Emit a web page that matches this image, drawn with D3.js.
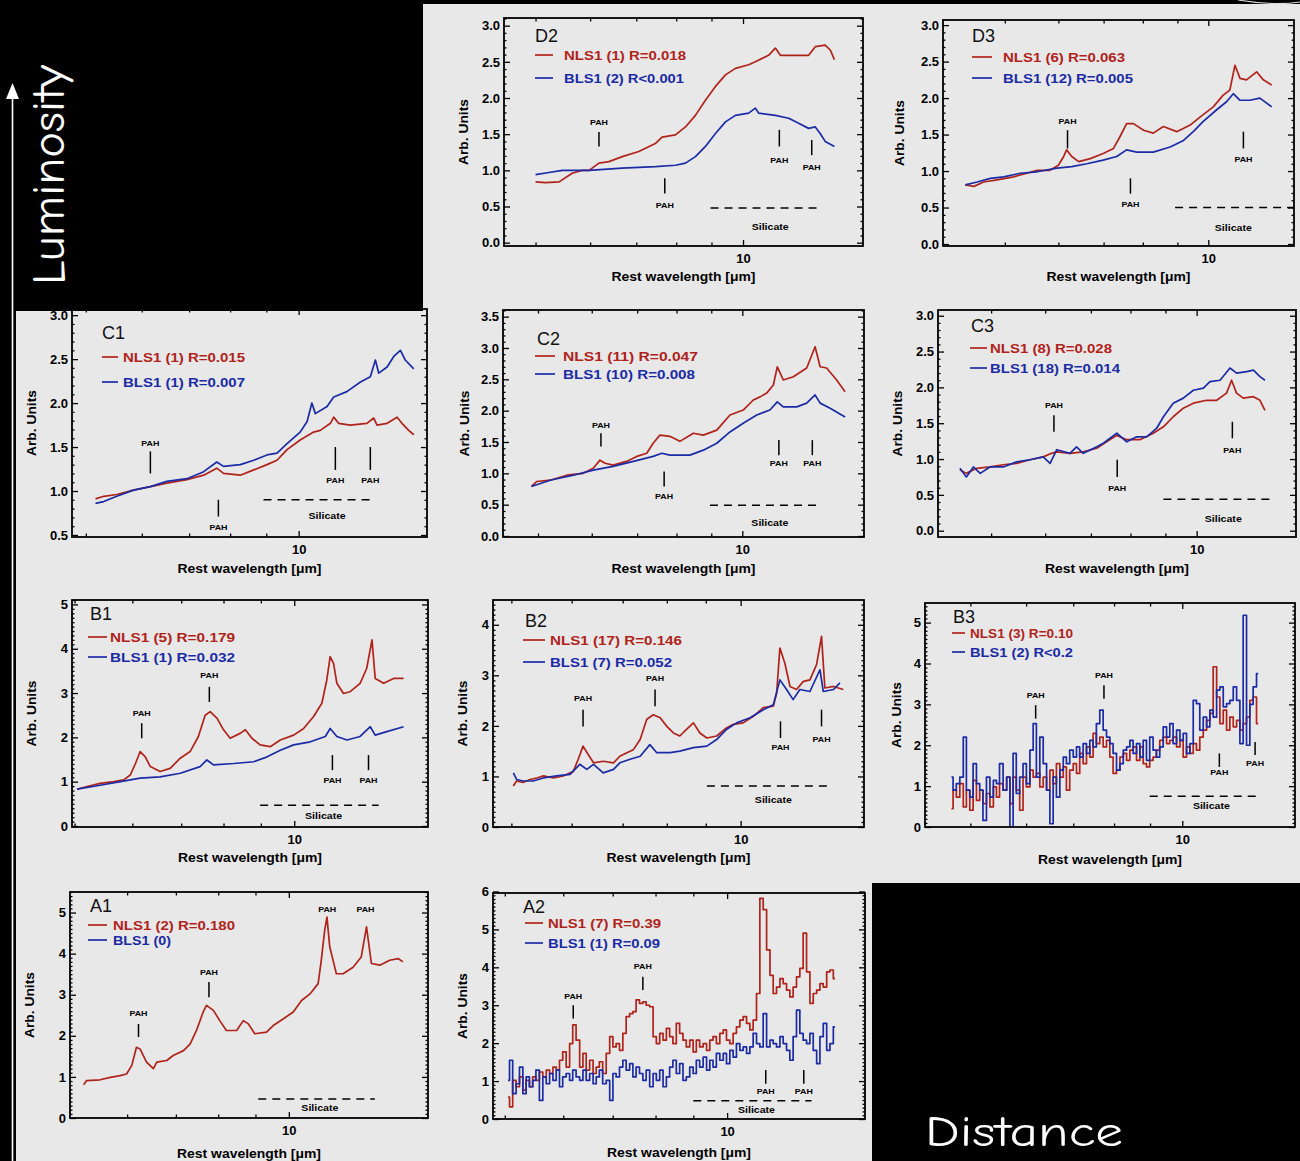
<!DOCTYPE html>
<html>
<head>
<meta charset="utf-8">
<script src="https://cdn.jsdelivr.net/npm/d3@7"></script>
<style>
  html, body { margin: 0; padding: 0; background: #000; }
  svg { display: block; }
</style>
</head>
<body>
<svg id="chart" width="1300" height="1161"></svg>
<script>
// ---------------------------------------------------------------------------
// Mean mid-IR spectra (rest wavelength in micron, flux in arbitrary units)
// for NLS1 and BLS1 sub-samples, binned by luminosity (A..D) and distance (1..3).
// ---------------------------------------------------------------------------

// D2
const D2_NLS1 = [[5.00,0.84],[5.17,0.83],[5.41,0.84],[5.65,0.96],[5.84,1.00],[5.98,1.00],[6.18,1.10],[6.39,1.12],[6.68,1.19],[7.06,1.26],[7.46,1.37],[7.63,1.46],[7.98,1.49],[8.25,1.60],[8.53,1.76],[8.82,1.97],[9.12,2.16],[9.43,2.32],[9.75,2.41],[10.19,2.46],[10.42,2.50],[10.89,2.59],[11.14,2.69],[11.33,2.59],[11.65,2.59],[12.45,2.59],[12.73,2.71],[13.16,2.73],[13.39,2.66],[13.57,2.53]];
const D2_BLS1 = [[5.00,0.94],[5.23,0.97],[5.47,1.00],[5.98,1.00],[6.68,1.03],[7.46,1.05],[7.98,1.07],[8.25,1.10],[8.53,1.19],[8.82,1.33],[9.12,1.51],[9.43,1.67],[9.75,1.76],[10.19,1.79],[10.42,1.86],[10.54,1.79],[11.14,1.76],[11.65,1.72],[12.04,1.65],[12.45,1.58],[12.73,1.60],[12.94,1.51],[13.16,1.40],[13.57,1.33]];
// D3
const D3_NLS1 = [[4.37,0.81],[4.50,0.79],[4.65,0.85],[4.87,0.88],[5.15,0.92],[5.39,0.97],[5.58,1.01],[5.83,1.01],[6.00,1.08],[6.11,1.20],[6.17,1.29],[6.28,1.20],[6.43,1.13],[6.69,1.17],[6.99,1.24],[7.24,1.31],[7.40,1.47],[7.57,1.65],[7.75,1.65],[8.02,1.56],[8.29,1.52],[8.58,1.61],[8.98,1.54],[9.40,1.63],[9.72,1.74],[10.17,1.88],[10.52,2.04],[10.76,2.11],[10.95,2.45],[11.14,2.27],[11.39,2.25],[11.79,2.36],[12.06,2.25],[12.41,2.18]];
const D3_BLS1 = [[4.37,0.81],[4.55,0.85],[4.76,0.90],[4.98,0.92],[5.27,0.97],[5.58,0.99],[5.97,1.04],[6.28,1.06],[6.61,1.10],[6.99,1.15],[7.32,1.20],[7.57,1.29],[7.84,1.26],[8.29,1.26],[8.78,1.33],[9.19,1.42],[9.50,1.54],[9.83,1.68],[10.29,1.84],[10.64,1.95],[10.89,2.06],[11.14,1.97],[11.52,1.97],[11.92,2.00],[12.41,1.88]];
// C1
const C1_NLS1 = [[5.16,0.91],[5.30,0.94],[5.53,0.96],[5.84,1.01],[6.17,1.05],[6.51,1.09],[6.95,1.13],[7.34,1.18],[7.66,1.26],[7.83,1.20],[8.27,1.18],[8.64,1.24],[9.02,1.30],[9.32,1.35],[9.63,1.47],[10.05,1.58],[10.50,1.67],[10.73,1.69],[11.09,1.77],[11.21,1.84],[11.39,1.77],[11.83,1.75],[12.49,1.77],[12.77,1.83],[12.91,1.75],[13.34,1.77],[13.78,1.84],[14.00,1.77],[14.31,1.69],[14.55,1.64]];
const C1_BLS1 = [[5.16,0.86],[5.30,0.88],[5.53,0.94],[5.84,1.01],[6.17,1.05],[6.51,1.11],[6.95,1.14],[7.34,1.22],[7.66,1.33],[7.83,1.28],[8.27,1.30],[8.64,1.35],[9.02,1.41],[9.32,1.43],[9.63,1.54],[10.05,1.67],[10.28,1.79],[10.44,2.00],[10.56,1.88],[10.97,1.96],[11.21,2.07],[11.70,2.13],[12.23,2.24],[12.63,2.30],[12.84,2.49],[12.98,2.34],[13.34,2.41],[13.63,2.53],[13.93,2.60],[14.15,2.49],[14.55,2.39]];
// C2
const C2_NLS1 = [[4.89,0.79],[4.98,0.87],[5.21,0.89],[5.51,0.97],[5.83,1.00],[6.03,1.08],[6.17,1.21],[6.28,1.16],[6.45,1.13],[6.75,1.19],[6.99,1.27],[7.23,1.32],[7.39,1.48],[7.56,1.61],[7.82,1.59],[8.09,1.51],[8.47,1.64],[8.76,1.61],[9.17,1.69],[9.59,1.93],[10.03,2.01],[10.38,2.17],[10.62,2.22],[10.86,2.28],[11.11,2.41],[11.26,2.70],[11.49,2.49],[11.89,2.54],[12.44,2.68],[12.80,3.02],[13.02,2.70],[13.31,2.68],[13.77,2.49],[14.17,2.30]];
const C2_BLS1 = [[4.89,0.79],[5.21,0.89],[5.64,0.97],[6.03,1.05],[6.45,1.11],[6.91,1.19],[7.39,1.27],[7.61,1.32],[7.82,1.29],[8.37,1.29],[8.76,1.37],[9.17,1.48],[9.59,1.66],[10.03,1.80],[10.50,1.93],[10.98,2.01],[11.26,2.14],[11.49,2.06],[12.03,2.06],[12.44,2.12],[12.80,2.25],[13.02,2.12],[13.47,2.04],[14.17,1.90]];
// C3
const C3_NLS1 = [[4.50,0.85],[4.60,0.80],[4.76,0.87],[4.98,0.89],[5.21,0.92],[5.45,0.94],[5.70,0.99],[5.96,1.03],[6.13,1.08],[6.24,1.10],[6.52,1.08],[6.82,1.10],[7.14,1.15],[7.38,1.24],[7.64,1.33],[7.90,1.27],[8.26,1.27],[8.64,1.36],[8.94,1.45],[9.24,1.59],[9.56,1.71],[9.89,1.78],[10.34,1.82],[10.70,1.82],[11.06,1.92],[11.25,2.10],[11.44,1.92],[11.70,1.85],[12.11,1.87],[12.38,1.82],[12.59,1.68]];
const C3_BLS1 = [[4.50,0.87],[4.60,0.75],[4.71,0.89],[4.82,0.80],[4.98,0.89],[5.21,0.89],[5.45,0.96],[5.70,0.99],[5.96,1.03],[6.10,0.94],[6.24,1.13],[6.52,1.08],[6.67,1.17],[6.82,1.08],[7.14,1.17],[7.30,1.22],[7.64,1.36],[7.90,1.24],[8.17,1.31],[8.45,1.31],[8.74,1.43],[8.94,1.59],[9.24,1.78],[9.56,1.85],[9.89,1.96],[10.23,1.99],[10.46,2.08],[10.82,2.10],[11.19,2.27],[11.44,2.20],[11.84,2.22],[12.11,2.24],[12.38,2.15],[12.59,2.10]];
// B1
const B1_NLS1 = [[5.04,0.83],[5.20,0.89],[5.42,0.96],[5.66,1.00],[5.84,1.04],[5.96,1.15],[6.06,1.41],[6.15,1.68],[6.25,1.56],[6.35,1.34],[6.55,1.23],[6.76,1.30],[6.98,1.53],[7.20,1.68],[7.39,2.02],[7.55,2.50],[7.67,2.58],[7.84,2.43],[8.00,2.17],[8.17,1.98],[8.43,2.09],[8.57,2.17],[8.75,1.98],[8.98,1.83],[9.27,1.79],[9.57,1.94],[9.98,2.05],[10.30,2.20],[10.63,2.47],[10.91,2.77],[11.08,3.29],[11.20,3.82],[11.32,3.67],[11.44,3.22],[11.68,2.99],[11.93,3.03],[12.31,3.22],[12.57,3.56],[12.78,4.20],[12.91,3.33],[13.26,3.22],[13.68,3.33],[14.12,3.33]];
const B1_BLS1 = [[5.04,0.83],[5.42,0.92],[5.78,1.00],[6.15,1.08],[6.55,1.11],[6.98,1.19],[7.43,1.34],[7.59,1.49],[7.75,1.38],[8.26,1.41],[8.80,1.45],[9.18,1.56],[9.57,1.71],[9.98,1.83],[10.52,1.90],[11.03,2.02],[11.20,2.20],[11.44,2.02],[11.81,1.94],[12.31,2.02],[12.71,2.24],[12.91,2.05],[13.39,2.13],[14.12,2.24]];
// B2
const B2_NLS1 = [[5.03,0.81],[5.08,0.91],[5.18,0.88],[5.29,0.94],[5.40,0.97],[5.51,1.01],[5.68,0.97],[5.85,1.01],[6.03,1.10],[6.12,1.34],[6.21,1.60],[6.31,1.43],[6.41,1.27],[6.60,1.30],[6.81,1.27],[6.94,1.40],[7.09,1.47],[7.23,1.53],[7.38,1.73],[7.53,2.13],[7.68,2.22],[7.84,2.16],[8.00,1.99],[8.16,1.86],[8.32,1.80],[8.49,1.93],[8.67,2.06],[8.84,1.86],[9.03,1.76],[9.30,1.80],[9.58,1.96],[9.78,2.03],[10.08,2.06],[10.39,2.19],[10.71,2.36],[11.04,2.39],[11.15,2.65],[11.26,3.54],[11.43,3.24],[11.61,2.78],[11.84,2.72],[12.09,2.88],[12.33,2.91],[12.58,3.21],[12.77,3.77],[12.90,2.75],[13.24,2.78],[13.64,2.72]];
const B2_BLS1 = [[5.03,1.07],[5.08,0.94],[5.18,0.91],[5.34,0.91],[5.51,0.97],[5.73,1.01],[5.97,1.04],[6.15,1.24],[6.28,1.14],[6.41,1.24],[6.60,1.07],[6.81,1.14],[6.94,1.27],[7.16,1.34],[7.38,1.40],[7.60,1.63],[7.76,1.47],[8.08,1.47],[8.32,1.50],[8.67,1.57],[9.03,1.60],[9.30,1.73],[9.58,1.93],[9.88,2.06],[10.29,2.16],[10.71,2.32],[11.04,2.42],[11.26,2.91],[11.49,2.72],[11.72,2.52],[11.96,2.72],[12.33,2.68],[12.71,3.11],[12.84,2.68],[13.24,2.72],[13.50,2.85]];
// B3 (binned spectra on a common wavelength grid)
const B3_WAVE = [4.70,4.75,4.80,4.86,4.91,4.96,5.02,5.07,5.13,5.18,5.24,5.30,5.36,5.42,5.47,5.53,5.60,5.66,5.72,5.78,5.84,5.91,5.97,6.04,6.11,6.17,6.24,6.31,6.38,6.45,6.52,6.59,6.66,6.74,6.81,6.88,6.96,7.04,7.11,7.19,7.27,7.35,7.43,7.51,7.59,7.68,7.76,7.85,7.93,8.02,8.11,8.20,8.29,8.38,8.47,8.56,8.66,8.75,8.85,8.94,9.04,9.14,9.24,9.34,9.45,9.55,9.65,9.76,9.87,9.98,10.08,10.20,10.31,10.42,10.53,10.65,10.77,10.89,11.00,11.13,11.25,11.37,11.50,11.62,11.75,11.88,12.01,12.14,12.27,12.41,12.54,12.68,12.82];
const B3_NLS1 = [0.45,0.9,0.73,1.06,0.49,0.9,0.41,1.14,0.65,0.9,0.57,0.82,0.49,0.98,0.73,1.06,0.9,1.22,0.57,1.22,0.9,0.41,1.22,0.98,1.39,1.22,1.31,0.98,1.22,0.9,1.39,1.06,1.55,1.22,1.47,0.9,1.39,1.55,1.31,1.8,1.55,1.96,1.71,2.29,2.04,2.2,1.96,2.12,1.71,1.31,1.39,1.71,1.8,1.63,1.88,1.96,1.63,1.96,1.55,1.47,1.63,1.71,1.88,2.12,2.2,2.04,2.12,2.2,1.96,2.12,1.71,1.96,1.8,2.04,1.88,2.2,2.37,2.61,2.78,3.92,3.18,2.53,2.86,2.37,2.69,2.45,2.61,2.37,2.53,2.69,3.1,3.18,2.53];
const B3_BLS1 = [1.22,0.9,1.06,1.22,2.2,0.9,0.73,1.55,1.06,0.9,0.16,1.22,0.73,1.14,1.06,1.55,0.9,1.22,0.0,1.8,0.82,1.22,1.55,1.06,1.88,2.53,1.22,2.2,1.55,0.9,0.08,1.22,0.73,1.39,1.71,1.55,1.88,1.71,1.96,1.71,2.04,1.8,2.12,1.96,2.53,2.86,2.37,2.2,2.04,1.8,1.39,1.55,1.88,1.96,2.12,1.8,2.04,1.71,2.12,1.63,2.2,1.88,1.71,1.96,2.45,2.2,2.53,2.04,2.37,2.12,2.29,1.8,2.04,3.1,3.02,2.37,2.69,2.45,2.86,2.69,3.35,3.43,2.94,3.02,3.1,3.43,3.1,2.04,5.18,2.0,3.0,3.43,3.75];
// A1
const A1_NLS1 = [[5.23,0.81],[5.28,0.91],[5.51,0.93],[5.69,0.99],[5.87,1.03],[5.99,1.07],[6.09,1.28],[6.18,1.72],[6.25,1.68],[6.38,1.36],[6.52,1.20],[6.59,1.36],[6.80,1.40],[6.94,1.52],[7.17,1.64],[7.32,1.80],[7.47,2.13],[7.63,2.58],[7.71,2.74],[7.88,2.62],[8.04,2.37],[8.21,2.13],[8.48,2.13],[8.66,2.37],[8.80,2.29],[8.98,2.05],[9.32,2.09],[9.52,2.25],[9.82,2.41],[10.14,2.58],[10.41,2.86],[10.69,3.02],[10.97,3.27],[11.08,3.84],[11.20,4.57],[11.28,4.89],[11.38,4.16],[11.62,3.51],[11.87,3.51],[12.25,3.67],[12.57,3.92],[12.78,4.65],[12.98,3.76],[13.33,3.72],[13.75,3.84],[14.12,3.88],[14.34,3.80]];
const A1_BLS1 = [];
// A2 (binned spectra on a common wavelength grid)
const A2_WAVE = [5.05,5.10,5.15,5.21,5.26,5.32,5.37,5.43,5.48,5.54,5.60,5.66,5.72,5.78,5.84,5.90,5.96,6.02,6.09,6.15,6.21,6.28,6.35,6.41,6.48,6.55,6.62,6.68,6.75,6.82,6.90,6.97,7.04,7.11,7.19,7.26,7.34,7.42,7.49,7.57,7.65,7.73,7.81,7.90,7.98,8.06,8.15,8.23,8.32,8.40,8.49,8.58,8.67,8.76,8.85,8.95,9.04,9.13,9.23,9.33,9.43,9.52,9.62,9.72,9.83,9.93,10.03,10.14,10.24,10.35,10.46,10.57,10.68,10.79,10.90,11.02,11.13,11.25,11.37,11.49,11.60,11.73,11.85,11.97,12.10,12.22,12.35,12.48,12.61,12.74,12.88,13.01,13.15,13.29,13.42,13.57,13.71,13.85,14.00];
const A2_NLS1 = [0.58,0.32,1.02,0.85,1.11,0.76,1.02,0.85,1.11,1.02,1.24,1.11,1.29,1.2,1.37,1.29,1.55,1.77,1.37,1.99,2.48,2.08,1.37,1.73,1.29,1.55,1.2,1.37,1.51,1.2,1.73,2.17,1.9,1.99,1.81,2.26,2.7,2.78,2.83,3.14,3.05,3.09,3.0,2.96,2.17,1.99,2.26,2.08,2.39,2.17,1.99,2.52,2.26,2.08,1.9,2.08,1.77,2.08,1.9,1.99,1.81,2.08,2.17,1.99,2.26,2.35,2.08,1.99,2.26,2.43,2.61,2.7,2.52,2.35,2.61,3.31,5.82,5.52,4.46,3.79,3.31,3.48,3.7,3.57,3.4,3.22,3.48,3.75,3.97,4.9,3.88,3.05,3.31,3.4,3.57,3.48,3.88,3.93,3.7];
const A2_BLS1 = [1.02,1.55,0.67,0.93,1.37,0.67,1.11,0.85,1.02,1.29,0.49,1.11,0.93,1.2,1.02,1.29,0.85,1.11,1.2,1.02,1.29,1.11,1.02,1.29,1.02,1.2,0.93,1.11,1.29,0.93,1.02,0.49,1.2,1.11,1.37,1.55,1.29,1.46,1.11,1.37,1.2,1.02,1.29,0.85,1.2,1.02,1.29,0.85,1.11,1.37,1.55,1.2,1.46,1.02,1.11,1.37,1.2,1.55,1.37,1.63,1.29,1.55,1.37,1.73,1.55,1.73,1.46,1.81,1.63,1.99,1.81,1.9,1.73,1.9,2.26,1.99,1.9,2.78,1.9,2.08,1.99,1.9,2.17,1.99,1.81,1.55,2.17,2.87,2.26,2.08,1.99,2.26,1.81,1.46,2.17,2.52,1.81,1.99,2.43];

// Legend entries (NLS1 first, BLS1 second)
const LEGEND_D2 = ["NLS1 (1) R=0.018", "BLS1 (2) R<0.001"];
const LEGEND_D3 = ["NLS1 (6) R=0.063", "BLS1 (12) R=0.005"];
const LEGEND_C1 = ["NLS1 (1) R=0.015", "BLS1 (1) R=0.007"];
const LEGEND_C2 = ["NLS1 (11) R=0.047", "BLS1 (10) R=0.008"];
const LEGEND_C3 = ["NLS1 (8) R=0.028", "BLS1 (18) R=0.014"];
const LEGEND_B1 = ["NLS1 (5) R=0.179", "BLS1 (1) R=0.032"];
const LEGEND_B2 = ["NLS1 (17) R=0.146", "BLS1 (7) R=0.052"];
const LEGEND_B3 = ["NLS1 (3) R=0.10", "BLS1 (2) R<0.2"];
const LEGEND_A1 = ["NLS1 (2) R=0.180", "BLS1 (0)"];
const LEGEND_A2 = ["NLS1 (7) R=0.39", "BLS1 (1) R=0.09"];

// PAH feature markers: [wavelength, tick top, tick bottom, label level] (flux units)
const PAH_D2 = [[6.18,1.53,1.33,1.67],[7.70,0.89,0.68,0.52],[11.29,1.56,1.33,1.14],[12.58,1.42,1.21,1.05]];
const PAH_D3 = [[6.19,1.56,1.31,1.68],[7.67,0.90,0.69,0.55],[11.27,1.54,1.31,1.16]];
const PAH_C1 = [[6.17,1.45,1.20,1.54],[7.70,0.90,0.71,0.59],[11.27,1.50,1.24,1.125],[12.63,1.50,1.24,1.125]];
const PAH_C2 = [[6.19,1.64,1.43,1.77],[7.67,1.03,0.79,0.63],[11.32,1.53,1.29,1.16],[12.68,1.53,1.29,1.16]];
const PAH_C3 = [[6.18,1.61,1.38,1.75],[7.65,0.99,0.75,0.59],[11.28,1.52,1.29,1.13]];
const PAH_B1 = [[6.18,2.32,1.98,2.54],[7.65,3.14,2.80,3.41],[11.28,1.60,1.26,1.04],[12.64,1.60,1.26,1.04]];
const PAH_B2 = [[6.21,2.32,1.99,2.55],[7.72,2.72,2.39,2.95],[11.28,2.09,1.76,1.57],[12.77,2.32,1.99,1.73]];
const PAH_B3 = [[6.19,2.98,2.65,3.22],[7.74,3.47,3.14,3.71],[11.29,1.80,1.47,1.35],[12.69,2.08,1.76,1.55]];
const PAH_A1 = [[6.22,2.29,1.97,2.54],[7.77,3.31,2.94,3.55],[11.29,null,null,5.07],[12.74,null,null,5.07]];
const PAH_A2 = [[6.19,3.00,2.65,3.24],[7.69,3.75,3.40,4.04],[11.28,1.29,0.93,0.74],[12.70,1.29,0.93,0.74]];

// Silicate band: [from, to, level, label wavelength, label level]
const SIL_D2 = [8.97,12.85,0.48,10.95,0.21];
const SIL_D3 = [8.93,13.39,0.50,10.89,0.22];
const SIL_C1 = [8.92,12.77,0.90,10.97,0.71];
const SIL_C2 = [8.96,12.94,0.49,10.98,0.21];
const SIL_C3 = [8.94,12.88,0.44,10.94,0.16];
const SIL_B1 = [8.98,13.05,0.47,10.97,0.23];
const SIL_B2 = [9.03,13.10,0.81,11.04,0.53];
const SIL_B3 = [8.99,12.83,0.75,11.00,0.51];
const SIL_A1 = [9.08,13.12,0.46,11.03,0.24];
const SIL_A2 = [9.00,13.01,0.48,10.96,0.23];

// Axis ranges and tick values
const Y_TICKS_HALF = [0, 0.5, 1, 1.5, 2, 2.5, 3];
const Y_TICKS_C1 = [0.5, 1, 1.5, 2, 2.5, 3];
const Y_TICKS_C2 = [0, 0.5, 1, 1.5, 2, 2.5, 3, 3.5];
const Y_TICKS_B2 = [0, 1, 2, 3, 4];
const Y_TICKS_FIVE = [0, 1, 2, 3, 4, 5];
const Y_TICKS_A2 = [0, 1, 2, 3, 4, 5, 6];
const X_MINOR = [4, 5, 6, 7, 8, 9];
const X_MAJOR = [10];

// ---------------------------------------------------------------------------
const RED = "#b0231b", BLUE = "#1b2ba6", GREY = "#e8e8e8";
const FONT = "'Liberation Sans', Arial, sans-serif";
const zip = (w, f) => w.map((v, i) => [v, f[i]]);

const panels = [
  { id: "D2", frame: [504, 18, 863, 246], xd: [4.50, 14.93], yd: [-0.046, 3.106], yt: Y_TICKS_HALF, fmt: ".1f",
    nls: D2_NLS1, bls: D2_BLS1, leg: LEGEND_D2, pah: PAH_D2, sil: SIL_D2,
    lay: { lab: [535, 42], lx: [535, 553], tx: 564, ly: [55, 78], tw: [122, 120], ytx: 40, xty: 35 } },
  { id: "D3", frame: [943, 20, 1294, 246], xd: [4.05, 13.39], yd: [-0.027, 3.07], yt: Y_TICKS_HALF, fmt: ".1f",
    nls: D3_NLS1, bls: D3_BLS1, leg: LEGEND_D3, pah: PAH_D3, sil: SIL_D3,
    lay: { lab: [972, 42], lx: [972, 992], tx: 1003, ly: [57, 78], tw: [122, 130], ytx: 43, xty: 35 } },
  { id: "C1", frame: [72, 309, 427, 537], xd: [4.78, 15.19], yd: [0.477, 3.07], yt: Y_TICKS_C1, fmt: ".1f",
    nls: C1_NLS1, bls: C1_BLS1, leg: LEGEND_C1, pah: PAH_C1, sil: SIL_C1,
    lay: { lab: [102, 339], lx: [102, 118], tx: 123, ly: [357, 382], tw: [122, 122], ytx: 40, xty: 36 } },
  { id: "C2", frame: [503, 310, 864, 537], xd: [4.44, 15.11], yd: [-0.016, 3.606], yt: Y_TICKS_C2, fmt: ".1f",
    nls: C2_NLS1, bls: C2_BLS1, leg: LEGEND_C2, pah: PAH_C2, sil: SIL_C2,
    lay: { lab: [537, 345], lx: [535, 555], tx: 563, ly: [356, 374], tw: [135, 132], ytx: 38, xty: 36 } },
  { id: "C3", frame: [938, 310, 1296, 537], xd: [4.18, 13.98], yd: [-0.088, 3.08], yt: Y_TICKS_HALF, fmt: ".1f",
    nls: C3_NLS1, bls: C3_BLS1, leg: LEGEND_C3, pah: PAH_C3, sil: SIL_C3,
    lay: { lab: [971, 332], lx: [970, 987], tx: 990, ly: [348, 368], tw: [122, 130], ytx: 40, xty: 36 } },
  { id: "B1", frame: [72, 600, 428, 827], xd: [4.96, 15.25], yd: [-0.023, 5.10], yt: Y_TICKS_FIVE, fmt: "d",
    nls: B1_NLS1, bls: B1_BLS1, leg: LEGEND_B1, pah: PAH_B1, sil: SIL_B1,
    lay: { lab: [90, 620], lx: [88, 107], tx: 110, ly: [637, 657], tw: [125, 125], ytx: 40, xty: 35 } },
  { id: "B2", frame: [493, 600, 864, 827], xd: [4.73, 14.52], yd: [0, 4.49], yt: Y_TICKS_B2, fmt: "d",
    nls: B2_NLS1, bls: B2_BLS1, leg: LEGEND_B2, pah: PAH_B2, sil: SIL_B2,
    lay: { lab: [525, 627], lx: [523, 545], tx: 550, ly: [640, 662], tw: [132, 122], ytx: 30, xty: 35 } },
  { id: "B3", frame: [925, 603, 1295, 827], xd: [4.31, 14.46], yd: [0, 5.48], yt: Y_TICKS_FIVE, fmt: "d", step: true,
    nls: zip(B3_WAVE, B3_NLS1), bls: zip(B3_WAVE, B3_BLS1), leg: LEGEND_B3, pah: PAH_B3, sil: SIL_B3,
    lay: { lab: [953, 623], lx: [952, 965], tx: 970, ly: [633, 652], tw: [103, 103], ytx: 28, xty: 37 } },
  { id: "A1", frame: [70, 892, 428, 1118], xd: [5.01, 15.52], yd: [0, 5.50], yt: Y_TICKS_FIVE, fmt: "d",
    nls: A1_NLS1, bls: A1_BLS1, leg: LEGEND_A1, pah: PAH_A1, sil: SIL_A1,
    lay: { lab: [90, 912], lx: [88, 107], tx: 113, ly: [925, 940], tw: [122, 58], ytx: 40, xty: 40 } },
  { id: "A2", frame: [493, 893, 865, 1119], xd: [4.82, 15.37], yd: [0, 5.96], yt: Y_TICKS_A2, fmt: "d", step: true,
    nls: zip(A2_WAVE, A2_NLS1), bls: zip(A2_WAVE, A2_BLS1), leg: LEGEND_A2, pah: PAH_A2, sil: SIL_A2,
    lay: { lab: [523, 913], lx: [525, 543], tx: 548, ly: [923, 943], tw: [113, 112], ytx: 30, xty: 38 } }
];

const svg = d3.select("#chart");
const defs = svg.append("defs");

// Page background: black slide with light-grey plot sheets
svg.append("rect").attr("width", 1300).attr("height", 1161).attr("fill", "#000");
svg.append("rect").attr("x", 423).attr("y", 4).attr("width", 877).attr("height", 310).attr("fill", GREY);
svg.append("rect").attr("x", 16).attr("y", 310).attr("width", 1284).attr("height", 851).attr("fill", GREY);

function styleAxis(g, size) {
  g.select(".domain").remove();
  g.selectAll("line").attr("stroke", "#000").attr("stroke-width", 1.3);
  g.selectAll("text").attr("fill", "#000").attr("font-family", FONT)
    .attr("font-weight", "bold").attr("font-size", size || 13);
}

function drawPanel(p) {
  const [x0, y0, x1, y1] = p.frame;
  const x = d3.scaleLog().domain(p.xd).range([x0, x1]);
  const y = d3.scaleLinear().domain(p.yd).range([y1, y0]);
  const g = svg.append("g").attr("class", "panel panel-" + p.id);

  const clipId = "clip-" + p.id;
  defs.append("clipPath").attr("id", clipId).append("rect")
    .attr("x", x0).attr("y", y0).attr("width", x1 - x0).attr("height", y1 - y0);

  // Spectra
  const line = d3.line().x(d => x(d[0])).y(d => y(d[1]))
    .curve(p.step ? d3.curveStep : d3.curveLinear);
  [[p.nls, RED], [p.bls, BLUE]].forEach(([data, col]) => {
    if (!data.length) return;
    g.append("path").datum(data)
      .attr("clip-path", `url(#${clipId})`)
      .attr("d", line).attr("fill", "none")
      .attr("stroke", col).attr("stroke-width", 1.7)
      .attr("stroke-linejoin", "round");
  });

  // Silicate band marker
  const [sA, sB, sLev, sLx, sLy] = p.sil;
  g.append("line").attr("x1", x(sA)).attr("x2", x(sB)).attr("y1", y(sLev)).attr("y2", y(sLev))
    .attr("stroke", "#000").attr("stroke-width", 1.5).attr("stroke-dasharray", "8,6");
  g.append("text").attr("x", x(sLx)).attr("y", y(sLy)).attr("dy", "0.35em")
    .attr("text-anchor", "middle").attr("font-family", FONT).attr("font-weight", "bold")
    .attr("font-size", 8.5).attr("textLength", 37).attr("lengthAdjust", "spacingAndGlyphs")
    .text("Silicate");

  // PAH markers
  p.pah.forEach(([w, t0, t1, lv]) => {
    if (t0 !== null) {
      g.append("line").attr("x1", x(w)).attr("x2", x(w)).attr("y1", y(t0)).attr("y2", y(t1))
        .attr("stroke", "#000").attr("stroke-width", 1.5);
    }
    g.append("text").attr("x", x(w)).attr("y", y(lv)).attr("dy", "0.35em")
      .attr("text-anchor", "middle").attr("font-family", FONT).attr("font-weight", "bold")
      .attr("font-size", 8).attr("textLength", 18).attr("lengthAdjust", "spacingAndGlyphs")
      .text("PAH");
  });

  // Axes (ticks point inward on all four sides)
  const xMinor = X_MINOR.filter(v => v >= p.xd[0] && v <= p.xd[1]);
  const yStep = 0.1;
  const yMinor = d3.range(Math.ceil(p.yd[0] / yStep) * yStep, p.yd[1] + 1e-9, yStep)
    .map(v => +v.toFixed(2)).filter(v => !p.yt.some(t => Math.abs(t - v) < 1e-6));

  g.append("g").attr("transform", `translate(0,${y1})`)
    .call(d3.axisBottom(x).tickValues(xMinor).tickSize(-3.5).tickFormat(""))
    .call(s => styleAxis(s));
  g.append("g").attr("transform", `translate(0,${y1})`)
    .call(d3.axisBottom(x).tickValues(X_MAJOR).tickSize(-6).tickPadding(8).tickFormat(d3.format("d")))
    .call(s => styleAxis(s));
  g.append("g").attr("transform", `translate(0,${y0})`)
    .call(d3.axisTop(x).tickValues(xMinor).tickSize(-3.5).tickFormat(""))
    .call(s => styleAxis(s));
  g.append("g").attr("transform", `translate(0,${y0})`)
    .call(d3.axisTop(x).tickValues(X_MAJOR).tickSize(-6).tickFormat(""))
    .call(s => styleAxis(s));

  g.append("g").attr("transform", `translate(${x0},0)`)
    .call(d3.axisLeft(y).tickValues(yMinor).tickSize(-2.5).tickFormat(""))
    .call(s => styleAxis(s));
  g.append("g").attr("transform", `translate(${x0},0)`)
    .call(d3.axisLeft(y).tickValues(p.yt).tickSize(-6).tickPadding(4).tickFormat(d3.format(p.fmt)))
    .call(s => styleAxis(s));
  g.append("g").attr("transform", `translate(${x1},0)`)
    .call(d3.axisRight(y).tickValues(yMinor).tickSize(-2.5).tickFormat(""))
    .call(s => styleAxis(s));
  g.append("g").attr("transform", `translate(${x1},0)`)
    .call(d3.axisRight(y).tickValues(p.yt).tickSize(-6).tickFormat(""))
    .call(s => styleAxis(s));

  // Frame
  g.append("rect").attr("x", x0).attr("y", y0).attr("width", x1 - x0).attr("height", y1 - y0)
    .attr("fill", "none").attr("stroke", "#000").attr("stroke-width", 1.8);

  // Axis titles
  g.append("text").attr("x", (x0 + x1) / 2).attr("y", y1 + p.lay.xty)
    .attr("text-anchor", "middle").attr("font-family", FONT).attr("font-weight", "bold")
    .attr("font-size", 12.5).attr("textLength", 144).attr("lengthAdjust", "spacingAndGlyphs")
    .text("Rest wavelength [μm]");
  g.append("text")
    .attr("transform", `translate(${x0 - p.lay.ytx},${(y0 + y1) / 2}) rotate(-90)`)
    .attr("text-anchor", "middle").attr("dy", "0.35em")
    .attr("font-family", FONT).attr("font-weight", "bold").attr("font-size", 12.5)
    .attr("textLength", 66).attr("lengthAdjust", "spacingAndGlyphs")
    .text("Arb. Units");

  // Panel tag and legend
  const L = p.lay;
  g.append("text").attr("x", L.lab[0]).attr("y", L.lab[1])
    .attr("font-family", FONT).attr("font-size", 18).attr("fill", "#111").text(p.id);
  [RED, BLUE].forEach((col, i) => {
    g.append("line").attr("x1", L.lx[0]).attr("x2", L.lx[1]).attr("y1", L.ly[i]).attr("y2", L.ly[i])
      .attr("stroke", col).attr("stroke-width", 1.7);
    g.append("text").attr("x", L.tx).attr("y", L.ly[i]).attr("dy", "0.36em")
      .attr("font-family", FONT).attr("font-weight", "bold").attr("font-size", 13)
      .attr("fill", col).attr("textLength", L.tw[i]).attr("lengthAdjust", "spacingAndGlyphs")
      .text(p.leg[i]);
  });
}

panels.forEach(drawPanel);

// Slide overlay: black margins and the two ordering arrows/labels
svg.append("rect").attr("x", 0).attr("y", 0).attr("width", 423).attr("height", 311).attr("fill", "#000");
svg.append("rect").attr("x", 0).attr("y", 0).attr("width", 16).attr("height", 1161).attr("fill", "#000");
svg.append("rect").attr("x", 872).attr("y", 883).attr("width", 428).attr("height", 278).attr("fill", "#000");
svg.append("path").attr("d", "M1238,0 Q1275,6 1300,2").attr("fill", "none")
  .attr("stroke", "#ddd").attr("stroke-width", 1.2);

svg.append("line").attr("x1", 12.5).attr("x2", 12.5).attr("y1", 96).attr("y2", 1161)
  .attr("stroke", "#fff").attr("stroke-width", 1.6);
svg.append("path").attr("d", "M12.5,83 L6,99 L19,99 Z").attr("fill", "#fff");

const BIG_FONT = "'Comic Neue','Comic Sans MS','Noto Sans','DejaVu Sans',sans-serif";
svg.append("text").attr("transform", "translate(64,285) rotate(-90)")
  .attr("font-family", BIG_FONT).attr("font-size", 46).attr("fill", "#fff")
  .attr("textLength", 220).attr("lengthAdjust", "spacingAndGlyphs").text("Luminosity");
svg.append("text").attr("x", 925).attr("y", 1146)
  .attr("font-family", BIG_FONT).attr("font-size", 42).attr("fill", "#fff")
  .attr("textLength", 198).attr("lengthAdjust", "spacingAndGlyphs").text("Distance");
</script>
</body>
</html>
